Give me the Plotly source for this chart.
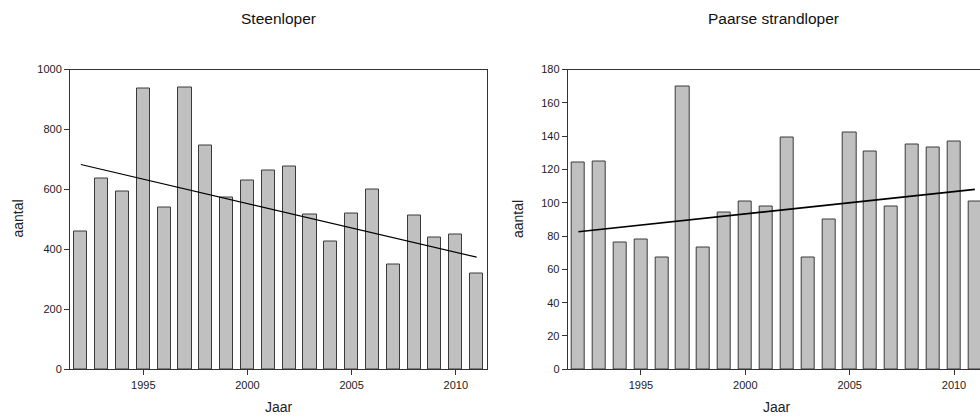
import plotly.graph_objects as go

# Yearly counts (aantal) for two wader species
years = list(range(1992, 2012))
steenloper = [458, 638, 593, 937, 539, 941, 747, 572, 629, 663,
              678, 517, 427, 519, 600, 348, 513, 440, 450, 320]
paarse_strandloper = [124, 125, 76, 78, 67, 170, 73, 94, 101, 98,
                      139, 67, 90, 142, 131, 98, 135, 133, 137, 101]

# Trend lines (start/end value over the period)
trend_years = [1992, 2011]
trend_steenloper = [683, 374]
trend_paarse = [82.6, 108]

titles = ["Steenloper", "Paarse strandloper"]
x_ticks = [1995, 2000, 2005, 2010]
y_ticks_left = [0, 200, 400, 600, 800, 1000]
y_ticks_right = [0, 20, 40, 60, 80, 100, 120, 140, 160, 180]

W, H = 980, 416
FONT = "Liberation Sans, Arial, sans-serif"
AX = "#333333"

def px(x):
    return x / W

def py(y):
    return (H - y) / H

fig = go.Figure()

bar_style = dict(marker=dict(color="#c0c0c0", line=dict(color="#3a3a3a", width=1)),
                 width=0.63, showlegend=False, hoverinfo="x+y")

fig.add_trace(go.Bar(x=years, y=steenloper, xaxis="x", yaxis="y", **bar_style))
fig.add_trace(go.Scatter(x=trend_years, y=trend_steenloper, xaxis="x", yaxis="y",
                         mode="lines", line=dict(color="black", width=1.2),
                         showlegend=False))
fig.add_trace(go.Bar(x=years, y=paarse_strandloper, xaxis="x2", yaxis="y2", **bar_style))
fig.add_trace(go.Scatter(x=trend_years, y=trend_paarse, xaxis="x2", yaxis="y2",
                         mode="lines", line=dict(color="black", width=1.6),
                         showlegend=False))

tick_font = dict(family=FONT, size=11, color="#222222")
common_x = dict(showline=True, linecolor=AX, linewidth=1, ticks="outside",
                ticklen=5, tickcolor=AX, tickvals=x_ticks, showgrid=False,
                zeroline=False, tickfont=tick_font, fixedrange=True,
                automargin=False)
common_y = dict(showline=True, linecolor=AX, linewidth=1, ticks="outside",
                ticklen=5, tickcolor=AX, showgrid=False, zeroline=False,
                tickfont=tick_font, fixedrange=True, automargin=False)

ydom = [py(369.3), py(69.5)]

fig.update_layout(
    width=W, height=H, autosize=False,
    margin=dict(l=0, r=0, t=0, b=0, pad=0, autoexpand=False),
    paper_bgcolor="white", plot_bgcolor="white",
    bargap=0, showlegend=False,
    font=dict(family=FONT, color="#222222"),
    xaxis=dict(domain=[px(70), px(487)], range=[1991.48, 2011.50],
               anchor="y", mirror=True, **common_x),
    yaxis=dict(domain=ydom, range=[0, 1000], tickvals=y_ticks_left,
               anchor="x", mirror=True, **common_y),
    xaxis2=dict(domain=[px(567.7), 1.0], range=[1991.488, 2011.246],
                anchor="y2", mirror=True, **common_x),
    yaxis2=dict(domain=ydom, range=[0, 180], tickvals=y_ticks_right,
                anchor="x2", mirror=False, **common_y),
)

annotations = []
# Panel titles
for xr, t in zip(["x domain", "x2 domain"], titles):
    annotations.append(dict(text=t, xref=xr, x=0.5, yref="paper", y=py(18.5),
                            xanchor="center", yanchor="middle", showarrow=False,
                            font=dict(family=FONT, size=15.5, color="#111111")))
# Axis titles
for xc in [279, 777]:
    annotations.append(dict(text="Jaar", xref="paper", x=px(xc), yref="paper",
                            y=py(406.5), xanchor="center", yanchor="middle",
                            showarrow=False,
                            font=dict(family=FONT, size=14, color="#222222")))
for xc in [17.5, 518]:
    annotations.append(dict(text="aantal", xref="paper", x=px(xc), yref="paper",
                            y=py(219), xanchor="center", yanchor="middle",
                            textangle=-90, showarrow=False,
                            font=dict(family=FONT, size=14, color="#222222")))
fig.update_layout(annotations=annotations)

fig.write_html("out.html", config={"displayModeBar": False})
